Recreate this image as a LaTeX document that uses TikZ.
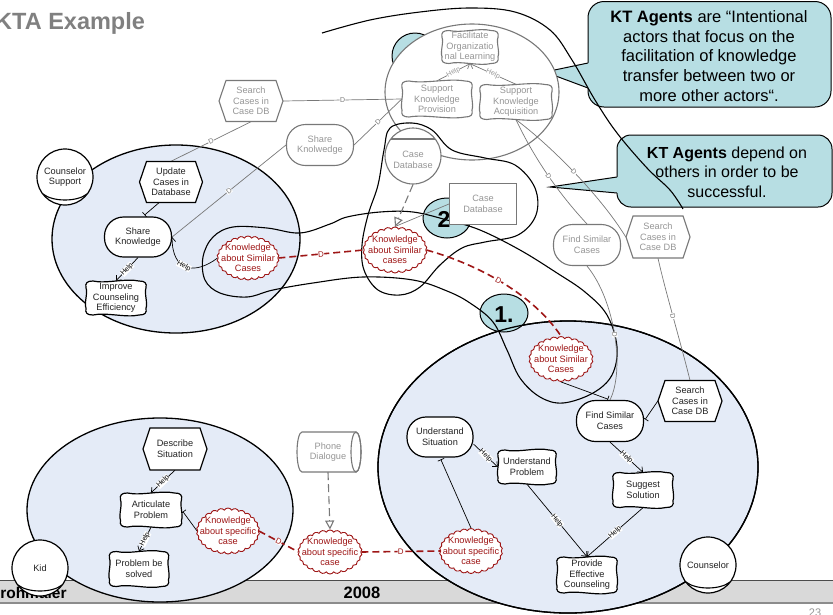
\documentclass[tikz,border=0pt]{standalone}
\usepackage{fontspec}
\setmainfont{Liberation Sans}
\usetikzlibrary{shapes.geometric,shapes.symbols,arrows.meta,calc}

\definecolor{actorfill}{RGB}{228,235,247}
\definecolor{ktteal}{RGB}{183,222,227}
\definecolor{kred}{RGB}{158,22,22}
\definecolor{gtext}{RGB}{150,150,150}
\definecolor{gline}{RGB}{120,120,120}
\definecolor{ntext}{RGB}{35,35,35}
\definecolor{footgray}{RGB}{217,217,217}
\definecolor{titlegray}{RGB}{128,128,128}

\pgfdeclarelayer{bg}
\pgfdeclarelayer{lk}
\pgfsetlayers{bg,lk,main}

\tikzset{
  lbl/.style={font=\fontsize{9.2}{10.6}\selectfont, align=center, inner sep=0pt},
  textk/.style={text=ntext},
  textg/.style={text=gtext},
  shapek/.style={draw=black, line width=1.2pt},
  shapeg/.style={draw=gline, line width=1.1pt},
  goalk/.style={lbl, textk, shapek, fill=white, rounded corners=19pt},
  goalg/.style={lbl, textg, shapeg, fill=white, rounded corners=19pt},
  rolenode/.style={lbl, textk, circle, draw, line width=1.2pt, fill=white, minimum size=56pt},
  know/.style={cloud, cloud puffs=26, cloud puff arc=120, cloud ignores aspect, draw=kred, line width=0.9pt, fill=white},
  actorarea/.style={draw, line width=1.3pt, fill=actorfill},
  depline/.style={draw=gline, line width=0.7pt},
  dmark/.style={sloped, fill=white, inner sep=0.3pt, font=\fontsize{7}{7}\selectfont, text=gline},
  rdep/.style={draw=kred, line width=1.6pt, dash pattern=on 7pt off 4pt},
  rmark/.style={sloped, fill=white, inner sep=0.3pt, font=\fontsize{8}{8}\selectfont, text=kred},
  helplink/.style={draw, line width=0.7pt, -{Straight Barb[length=4pt,width=7pt]}},
  helplbl/.style={sloped, fill=white, inner sep=0.2pt, font=\fontsize{7}{7.5}\selectfont},
  decomp/.style={draw, line width=0.7pt, -{Bar[width=7pt]}, shorten >=2pt},
  refline/.style={draw=gline, line width=1.1pt, dash pattern=on 8pt off 4pt, -{Triangle[open, length=9pt, width=9pt]}},
  tealspot/.style={draw, line width=1pt, fill=ktteal},
  callout/.style={draw, line width=1pt, fill=ktteal},
}

% hexagonal task: name, cx, cy, width, height, text, k|g
\newcommand\hexnode[7]{%
  \path[shape#7, fill=white]
    (#2-#4/2,#3) -- (#2-#4/2+7,#3-#5/2) -- (#2+#4/2-7,#3-#5/2) -- (#2+#4/2,#3)
    -- (#2+#4/2-7,#3+#5/2) -- (#2-#4/2+7,#3+#5/2) -- cycle;
  \node[lbl, text#7, minimum width=#4pt, minimum height=#5pt] (#1) at (#2,#3) {#6};}

% wavy soft goal: name, cx, cy, width, height, text, k|g
\newcommand\softnode[7]{%
  \path[shape#7, fill=white]
    (#2-#4/2+7,#3-#5/2)
    .. controls (#2-#4/6,#3-#5/2+3) and (#2+#4/6,#3-#5/2-3) .. (#2+#4/2-7,#3-#5/2)
    .. controls (#2+#4/2-1,#3-#5/2) and (#2+#4/2+1,#3-#5/2+2) .. (#2+#4/2,#3-#5/2+7)
    .. controls (#2+#4/2-2,#3-#5/6) and (#2+#4/2+2,#3+#5/6) .. (#2+#4/2,#3+#5/2-7)
    .. controls (#2+#4/2+1,#3+#5/2-2) and (#2+#4/2-1,#3+#5/2) .. (#2+#4/2-7,#3+#5/2)
    .. controls (#2+#4/6,#3+#5/2+3) and (#2-#4/6,#3+#5/2-3) .. (#2-#4/2+7,#3+#5/2)
    .. controls (#2-#4/2+1,#3+#5/2) and (#2-#4/2-1,#3+#5/2-2) .. (#2-#4/2,#3+#5/2-7)
    .. controls (#2-#4/2-2,#3+#5/6) and (#2-#4/2+2,#3-#5/6) .. (#2-#4/2,#3-#5/2+7)
    .. controls (#2-#4/2-1,#3-#5/2+2) and (#2-#4/2+1,#3-#5/2) .. cycle;
  \node[lbl, text#7, minimum width=#4pt, minimum height=#5pt] (#1) at (#2,#3) {#6};}

% knowledge cloud: name, cx, cy, width, height, text
\newcommand\knownode[6]{%
  \node[know, minimum width=#4pt, minimum height=#5pt] (#1) at (#2,#3) {};
  \node[lbl, text=kred] (#1-t) at (#2,#3) {#6};}

% role marker at the bottom of an actor circle
\newcommand\rolearc[1]{%
  \draw[line width=1.1pt] ($(#1.center)+(-22,17)$) .. controls +(10,8) and +(-10,8) .. ($(#1.center)+(22,17)$);}

\begin{document}
\begin{tikzpicture}[x=1pt,y=-1pt]
\useasboundingbox (0,0) rectangle (833,614);

% ---------- backdrop ----------
\begin{pgfonlayer}{bg}
  % footer
  \fill[footgray] (0,580) rectangle (833,603);
  \draw[line width=0.6pt, black!70] (0,580) -- (833,580);
  \draw[line width=1.6pt, black!45] (0,603) -- (833,603);
  \node[anchor=base west, font=\bfseries\fontsize{15.5}{16}\selectfont, inner sep=0] (author) at (-74,598) {Markus Strohmaier};
  \node[anchor=base, font=\bfseries\fontsize{16.5}{17}\selectfont, inner sep=0] (year) at (362,598) {2008};
  \node[anchor=north, font=\fontsize{11}{11}\selectfont, text=gtext, inner sep=0] (page) at (815,609) {23};

  % title
  \node[anchor=base west, font=\bfseries\fontsize{23.5}{26}\selectfont, text=titlegray, inner sep=0] (title) at (-5,29) {KTA Example};

  % callouts
  \path[callout, rounded corners=16pt] (588,1.5) rectangle (831,107);
  \fill[ktteal] (545,72) -- (600,60.5) -- (600,92.5) -- cycle;
  \draw[line width=1pt] (588,63) -- (545,72) -- (588,88);
  \node[font=\fontsize{16.5}{19.8}\selectfont, align=center, inner sep=0] (note1) at (709,56)
    {\textbf{KT Agents} are “Intentional\\actors that focus on the\\facilitation of knowledge\\transfer between two or\\more other actors“.};

  \path[callout, rounded corners=14pt] (617,135) rectangle (832,207);
  \fill[ktteal] (550,187) -- (628,175.4) -- (628,194) -- cycle;
  \draw[line width=1pt] (617,177) -- (550,187) -- (617,193);
  \node[font=\fontsize{16}{19.5}\selectfont, align=center, inner sep=0] (note2) at (727,172)
    {\textbf{KT Agents} depend on\\others in order to be\\successful.};

  % actor boundaries
  \path[actorarea] (176,239) ellipse [x radius=124pt, y radius=94pt];
  \path[actorarea] (160,510) ellipse [x radius=133pt, y radius=92pt];
  \path[actorarea] (568,467) ellipse [x radius=190pt, y radius=146pt];

  % numbered spots and the agent circle
  \path[tealspot] (415,56) circle [radius=23pt];
  \path[tealspot] (504,313) ellipse [x radius=24pt, y radius=19pt];
  \path[tealspot] (447,218) ellipse [x radius=24pt, y radius=20pt];
  \draw[line width=1.3pt] (568,467) ellipse [x radius=190pt, y radius=146pt];
  \node[font=\bfseries\fontsize{23}{23}\selectfont, inner sep=0] (num2) at (444,219) {2};

  % KT agent boundary
  \path[draw=gline, line width=1.1pt, fill=white] (472,92) ellipse [x radius=87pt, y radius=68pt];

  % black grouping curves
  \draw[line width=1.1pt] plot[smooth, tension=0.6] coordinates {(322,33) (370,20) (420,12) (470,8) (515,12) (550,30) (572,60) (595,100) (617,133) (647,168) (670,190) (683,209)};
  \draw[line width=1.1pt] plot[smooth cycle, tension=0.6] coordinates {(390,128) (412,123) (432,130) (452,150) (485,158) (515,165) (535,188) (536,215) (518,235) (485,242) (462,248) (440,265) (420,287) (400,295) (378,290) (364,270) (362,245) (368,215) (378,185) (384,150)};
  \draw[line width=1.1pt] plot[smooth cycle, tension=0.6] coordinates {(233,227) (267,228) (300,233) (330,224) (347,217) (380,212) (413,212) (447,220) (480,230) (520,250) (557,273) (585,292) (607,315) (617,347) (612,375) (593,393) (563,403) (540,397) (520,378) (507,350) (493,322) (470,303) (447,291) (413,280) (363,277) (313,283) (273,290) (247,297) (220,293) (205,280) (203,257) (213,237)};
  \node[font=\bfseries\fontsize{23}{23}\selectfont, inner sep=0] (num1) at (504,315) {1.};
\end{pgfonlayer}

% ---------- elements ----------
% Counselor Support
\node[rolenode] (csr) at (65,177) {Counselor\\Support};
\rolearc{csr}
\hexnode{upd}{171}{182}{63}{41}{Update\\Cases in\\Database}{k}
\node[goalk, minimum width=67pt, minimum height=40pt] (sk) at (138,237) {Share\\Knowledge};
\softnode{ice}{116}{298}{60}{34}{Improve\\Counseling\\Efficiency}{k}
\knownode{ksc1}{248}{258}{62}{44}{Knowledge\\about Similar\\Cases}

% grey elements of the KT agent and its partners
\hexnode{scg1}{251}{101}{64}{41}{Search\\Cases in\\Case DB}{g}
\node[goalg, minimum width=67pt, minimum height=41pt] (skg) at (320,145) {Share\\Knolwedge};
\node[circle, shapeg, fill=white, minimum size=56pt] (cdb) at (413,156) {};
\draw[shapeg] ($(cdb.center)+(-22,-17)$) -- ($(cdb.center)+(22,-17)$);
\node[lbl, textg] (cdb-t) at (413,160) {Case\\Database};
\node[lbl, textg, shapeg, fill=white, minimum width=67pt, minimum height=41pt] (cdr) at (483,204) {Case\\Database};
\softnode{fol}{470}{47}{56}{33}{Facilitate\\Organizatio\\nal Learning}{g}
\softnode{skp}{437}{99}{70}{36}{Support\\Knowledge\\Provision}{g}
\softnode{ska}{516}{102}{72}{35}{Support\\Knowledge\\Acquisition}{g}
\node[goalg, minimum width=67pt, minimum height=41pt] (fsg) at (587,245) {Find Similar\\Cases};
\hexnode{scg2}{658}{237}{64}{42}{Search\\Cases in\\Case DB}{g}
% phone dialogue as a lying cylinder
\path[shapeg, fill=white] (302,432) -- (356,432) arc[start angle=90, end angle=-90, x radius=5pt, y radius=20pt]
  -- (302,472) arc[start angle=270, end angle=90, x radius=5pt, y radius=20pt] -- cycle;
\draw[shapeg] (356,452) ellipse [x radius=5pt, y radius=20pt];
\node[lbl, textg, minimum width=64pt, minimum height=40pt] (pd) at (328,452) {Phone\\Dialogue};

% shared knowledge
\knownode{ksc2}{395}{250}{64}{46}{Knowledge\\about Similar\\cases}
\knownode{ksc3}{561}{359}{64}{45}{Knowledge\\about Similar\\Cases}
\knownode{kmid}{330}{552}{64}{44}{Knowledge\\about specific\\case}

% Counselor
\node[rolenode] (cou) at (708,565) {Counselor};
\rolearc{cou}
\node[goalk, minimum width=66pt, minimum height=40pt] (us) at (440,437) {Understand\\Situation};
\softnode{upb}{527}{467}{58}{34}{Understand\\Problem}{k}
\node[goalk, minimum width=67pt, minimum height=41pt] (fs) at (610,421) {Find Similar\\Cases};
\hexnode{sc}{690}{401}{64}{41}{Search\\Cases in\\Case DB}{k}
\softnode{ss}{643}{490}{60}{35}{Suggest\\Solution}{k}
\softnode{pec}{587}{575}{60}{36}{Provide\\Effective\\Counseling}{k}
\knownode{kc}{471}{551}{63}{45}{Knowledge\\about specific\\case}

% Kid
\node[rolenode] (kid) at (40,568) {Kid};
\rolearc{kid}
\hexnode{ds}{175}{449}{64}{42}{Describe\\Situation}{k}
\softnode{ap}{151}{510}{61}{34}{Articulate\\Problem}{k}
\softnode{pbs}{139}{569}{59}{35}{Problem be\\solved}{k}
\knownode{kk}{228}{531}{63}{46}{Knowledge\\about specific\\case}

% ---------- links ----------
\begin{pgfonlayer}{lk}
  % dependencies
  \path[depline] (upd.north) -- node[dmark]{D} (scg1.south);
  \path[depline] (scg1.east) -- node[dmark]{D} (skp.west);
  \path[depline] (sk.east) -- node[dmark]{D} (skg.west);
  \path[depline] (skg.east) -- node[dmark]{D} (skp.west);
  \path[depline] (ska.south) .. controls (535,160) and (560,195) .. node[dmark]{D} (fsg.north);
  \path[depline] (ska.south) .. controls (550,145) and (600,195) .. node[dmark]{D} (scg2.west);
  \path[depline] (fsg.south) .. controls (615,300) and (625,370) .. node[dmark]{D} (fs.north);
  \path[depline] (scg2.south) .. controls (665,290) and (680,340) .. node[dmark]{D} (sc.north);

  % knowledge transfer
  \path[rdep] (ksc1.east) -- node[rmark]{D} (ksc2.west);
  \path[rdep] (ksc2.east) .. controls (470,262) and (530,290) .. node[rmark]{D} (ksc3.north);
  \path[rdep] (kk.east) -- node[rmark]{D} (kmid.west);
  \path[rdep] (kmid.east) -- node[rmark]{D} (kc.west);

  % media
  \path[refline] (pd.south) -- (kmid.north);
  \path[refline] (cdb.south) -- (ksc2.north);
  \path[depline] (cdr.west) -- (ksc2.north);

  % contributions
  \path[helplink, draw=gline] (skp.north) -- node[helplbl, text=gtext]{Help} (fol.south);
  \path[helplink, draw=gline] (ska.north) -- node[helplbl, text=gtext]{Help} (fol.south);
  \path[helplink] (sk.south) -- node[helplbl]{Help} (ice.north);
  \path[helplink] (ksc1.west) .. controls (195,275) and (172,272) .. node[helplbl, pos=0.55]{Help} (sk.east);
  \path[helplink] (ds.south) -- node[helplbl]{Help} (ap.north);
  \path[helplink] (ap.south) -- node[helplbl]{Help} (pbs.north);
  \path[helplink] (us.-12) -- node[helplbl]{Help} (upb.west);
  \path[helplink] (fs.south) -- node[helplbl]{Help} (ss.north);
  \path[helplink] (upb.south) -- node[helplbl]{Help} (pec.north);
  \path[helplink] (ss.south) -- node[helplbl]{Help} (pec.north);

  % decompositions
  \path[decomp] ([xshift=-12pt]upd.south) -- ([xshift=5pt]sk.north);
  \path[decomp] (kc.north) -- (us.south);
  \path[decomp] (kk.west) -- (ap.east);
  \path[decomp] (ksc3.south) -- (fs.north);
  \path[decomp] (sc.west) -- (fs.east);
\end{pgfonlayer}
\end{tikzpicture}
\end{document}
